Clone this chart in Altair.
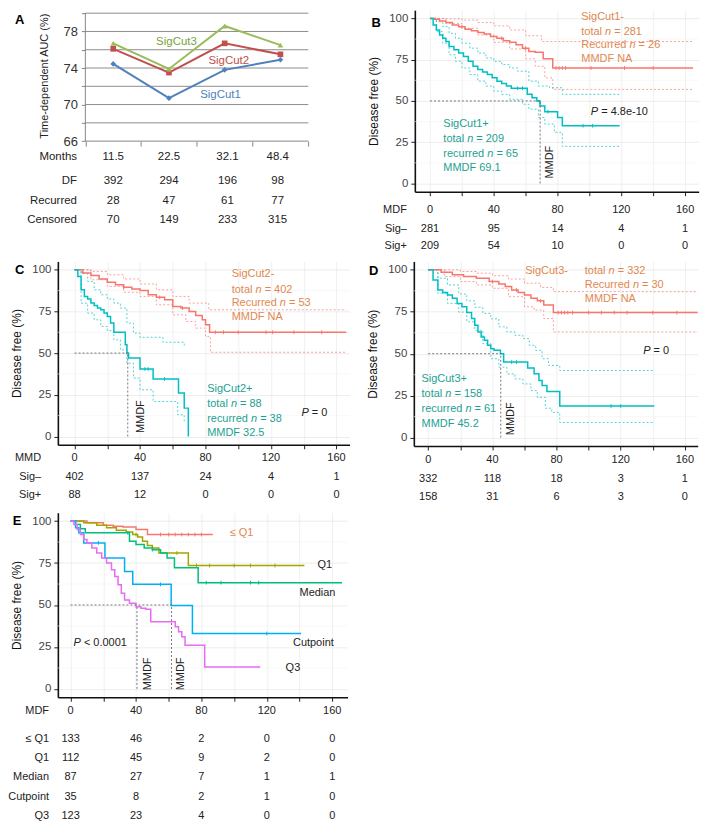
import altair as alt
import pandas as pd

FONT = "Liberation Sans"
ORANGE_TXT = "#E0884F"
TEAL_TXT = "#1D9F93"
RED = "#F8766D"
TEAL = "#00BFC4"
DARK = "#222222"
FX, FY = 0.985, 0.995   # keep the whole figure inside the 693 x 818 page area

# ---------------- Panel A data ----------------
A_months = ["11.5", "22.5", "32.1", "48.4"]
A_df = ["392", "294", "196", "98"]
A_recurred = ["28", "47", "61", "77"]
A_censored = ["70", "149", "233", "315"]
A_sigcut1 = [74.45, 70.7, 73.8, 74.9]
A_sigcut2 = [76.1, 73.5, 76.7, 75.5]
A_sigcut3 = [76.7, 73.9, 78.6, 76.5]
A_table_cols = [0.5, 1.5, 2.55, 3.45]
A_grid = [68, 70, 72, 74, 76, 78, 80]

# ---------------- number-at-risk tables ----------------
time_ticks = [0, 40, 80, 120, 160]
B_sig_neg = [281, 95, 14, 4, 1]
B_sig_pos = [209, 54, 10, 0, 0]
C_sig_neg = [402, 137, 24, 4, 1]
C_sig_pos = [88, 12, 0, 0, 0]
D_sig_neg = [332, 118, 18, 3, 1]
D_sig_pos = [158, 31, 6, 3, 0]
E_le_q1 = [133, 46, 2, 0, 0]
E_q1 = [112, 45, 9, 2, 0]
E_median = [87, 27, 7, 1, 1]
E_cutpoint = [35, 8, 2, 1, 0]
E_q3 = [123, 23, 4, 0, 0]

# ---------------- Panel B curves ----------------
B_neg_t = [0, 3, 6, 10, 14, 18, 22, 26, 30, 34, 38, 42, 46, 50, 54, 58, 62, 66, 71, 77, 165]
B_neg_s = [100, 99.5, 98.5, 97.5, 96, 95, 93.5, 92.5, 91.5, 90.5, 89, 88, 86.5, 85.5, 84, 82, 80, 79.5, 75.5, 70, 70]
B_neg_up_t = [0, 10, 20, 30, 40, 50, 60, 70, 165]
B_neg_up_s = [100, 99.8, 99, 97.5, 95.5, 93, 89.5, 86, 86]
B_neg_lo_t = [0, 10, 20, 30, 40, 50, 60, 66, 72, 77, 165]
B_neg_lo_s = [100, 97, 94, 90, 85.5, 81.5, 75.5, 71, 64, 57, 57]
B_pos_t = [0, 2, 4, 6, 8, 10, 12, 15, 18, 21, 24, 27, 30, 33, 36, 39, 42, 45, 48, 51, 61, 64, 67, 69, 72, 80, 83, 119]
B_pos_s = [100, 96, 93, 90, 88, 86, 83, 81, 79, 77, 74, 71, 69, 67.5, 66, 64, 62, 60.5, 59, 57.7, 54, 52, 50, 47, 43.5, 40, 35, 35]
B_pos_up_t = [0, 4, 8, 12, 16, 20, 25, 30, 35, 40, 45, 50, 55, 62, 68, 75, 83, 119]
B_pos_up_s = [100, 98, 95, 91, 88, 85, 82, 79, 76, 74, 72, 70, 68, 62, 59, 58, 54, 54]
B_pos_lo_t = [0, 4, 8, 12, 16, 20, 25, 30, 35, 40, 45, 50, 58, 62, 68, 72, 78, 83, 119]
B_pos_lo_s = [100, 92, 85, 78, 74, 70, 66, 62, 59, 56, 54, 51, 48, 45, 40, 36, 31, 22.5, 22.5]
B_neg_cens = [20, 45, 60, 79, 81, 83, 85, 101, 122, 140]
B_pos_cens = [55, 58, 74, 96, 102]

# ---------------- Panel C curves ----------------
C_neg_t = [0, 5, 10, 15, 20, 25, 30, 35, 40, 45, 50, 55, 60, 65, 70, 74, 78, 80, 82.5, 166]
C_neg_s = [100, 98, 96.5, 94.5, 92.5, 91, 89.5, 88.5, 87.5, 85, 83.5, 82, 78, 77, 75, 72.5, 70, 67, 62.5, 62.5]
C_neg_up_t = [0, 10, 20, 30, 40, 50, 60, 70, 82, 166]
C_neg_up_s = [100, 99, 97, 94.5, 91.5, 88, 84, 80, 76, 76]
C_neg_lo_t = [0, 10, 20, 30, 40, 50, 60, 68, 74, 80, 83, 166]
C_neg_lo_s = [100, 94, 90, 86.5, 84, 79, 73, 69, 65, 60, 50.5, 50.5]
C_pos_t = [0, 2, 4, 6, 8, 10, 12, 14, 16, 18, 20, 22, 24, 31, 32, 33, 40, 48, 63.5, 67, 69.5]
C_pos_s = [100, 96, 88, 84, 82.5, 80, 78.5, 77, 76, 74, 72, 68, 62.5, 55, 50, 47, 40.5, 34.5, 26, 17, 0]
C_pos_up_t = [0, 4, 8, 12, 16, 20, 24, 28, 32, 36, 40, 54, 67]
C_pos_up_s = [100, 98, 93, 88, 85, 82.5, 80, 77, 68, 62, 59.5, 56.5, 53.5]
C_pos_lo_t = [0, 4, 8, 12, 16, 20, 24, 28, 32, 36, 40, 48, 63, 67]
C_pos_lo_s = [100, 80, 74, 70, 66, 63.5, 58, 52, 44, 35, 28, 21, 13, 9]
C_neg_cens = [30, 52, 66, 86, 91, 100, 117, 121, 134, 151]
C_pos_cens = [43, 45, 55]

# ---------------- Panel D curves ----------------
D_neg_t = [0, 8, 15, 22, 30, 38, 44, 48, 52, 56, 60, 64, 68, 72, 78, 168]
D_neg_s = [100, 98.5, 97, 96, 95, 93, 91.5, 90, 88, 86.5, 85, 83, 81.5, 79, 74.5, 74.5]
D_neg_up_t = [0, 10, 20, 30, 40, 50, 60, 70, 78, 168]
D_neg_up_s = [100, 100, 99, 98, 96.5, 94.5, 92, 89.5, 87, 87]
D_neg_lo_t = [0, 10, 20, 30, 40, 50, 60, 66, 72, 78, 168]
D_neg_lo_s = [100, 96, 93, 91, 89, 84, 78, 76, 71, 63, 63]
D_pos_t = [0, 3, 6, 9, 12, 15, 18, 21, 24, 27, 29, 31, 33, 35, 37, 39, 41, 45, 47, 62, 66, 69, 71, 74, 82, 141]
D_pos_s = [100, 94, 88, 86.5, 85, 83, 80, 78, 74.5, 71, 67, 63, 60, 58, 55, 53, 52, 50, 45, 41.5, 38, 34, 31, 27.5, 18.8, 18.8]
D_pos_up_t = [0, 6, 12, 19, 24, 29, 34, 39, 44, 49, 54, 59, 63, 67, 71, 75, 82, 141]
D_pos_up_s = [100, 95, 91, 85.6, 81.5, 77.7, 74, 70.8, 66, 63, 61, 59, 55, 52, 47, 43, 40, 40]
D_pos_lo_t = [0, 6, 12, 19, 24, 29, 34, 39, 44, 49, 54, 59, 64, 68, 73, 77, 82, 141]
D_pos_lo_s = [100, 86, 80, 74.8, 69, 64, 56, 47, 42, 38, 35, 32, 28, 24, 17.5, 15, 9, 9]
D_neg_cens = [40, 55, 70, 81, 83, 85, 87, 90, 100, 108, 116, 124, 140, 155]
D_pos_cens = [52, 55, 114, 120]

# ---------------- Panel E curves ----------------
E_le_q1_t = [0, 10, 20, 26, 32, 40, 47, 87]
E_le_q1_s = [100, 99, 97.5, 97, 96.5, 95, 92, 92]
E_q1_t = [0, 8, 16, 22, 28, 34, 38, 41, 44, 47, 50, 54, 72, 143]
E_q1_s = [100, 99, 97.5, 96, 94.5, 93.5, 92, 90.5, 88, 85.5, 84, 81, 73.5, 73.5]
E_median_t = [0, 3, 6, 9, 36, 40, 45, 50, 55, 59, 63.5, 78, 166]
E_median_s = [100, 98, 95.5, 93, 88, 86, 84, 83, 81, 78, 72.2, 63.3, 63.3]
E_cut_t = [0, 3, 5, 8, 21, 33, 38, 61.5, 74.5, 141]
E_cut_s = [100, 96, 93, 87, 78, 70, 62.3, 49.7, 33, 33]
E_q3_t = [0, 2, 4, 6, 8, 10, 13, 16, 19, 22, 25, 27, 29, 31, 33, 36, 40, 43, 46, 49, 64, 66, 68, 70, 82, 116]
E_q3_s = [100, 98, 95, 92, 89, 87, 84, 81, 78, 75, 71, 67, 62, 57, 53, 51, 49, 48, 47.5, 40, 37, 34, 31, 26, 13, 13]
E_le_q1_cens = [55, 60, 64, 68, 72, 76, 80]
E_q1_cens = [40, 65, 77, 85, 100, 110, 125]
E_median_cens = [35, 50, 83, 92, 110, 115]
E_cut_cens = [17, 55, 120]

# ---------------- helpers ----------------
CHAR_W = {" ": 278, "=": 584, "+": 584, "-": 333, ".": 278, "<": 584, "\u2264": 549,
          "P": 667, "n": 556, "t": 278, "o": 556, "a": 556, "l": 222, "R": 722,
          "e": 556, "c": 500, "u": 556, "r": 333, "d": 556}


def tw(s, size):
    return sum(CHAR_W.get(c, 556) for c in s) * size / 1000.0


def geom(ox, oy, W, H, xdom, ydom, CW, CH):
    ox, W, CW = ox * FX, W * FX, CW * FX
    oy, H, CH = oy * FY, H * FY, CH * FY
    return dict(ox=ox, oy=oy, W=W, H=H, xdom=xdom, ydom=ydom, CW=CW, CH=CH,
                kx=W / (xdom[1] - xdom[0]), ky=H / (ydom[1] - ydom[0]))


def txt(t, s, text, color=DARK, align="left", style="normal", weight="normal", size=11, angle=0):
    return dict(t=t, s=s, text=text, color=color, align=align, style=style,
                weight=weight, size=size, angle=angle)


def rich(g, t0, s, parts, color=DARK, size=11):
    rows, off = [], 0.0
    for text, ital in parts:
        lead = len(text) - len(text.lstrip(" "))
        core = text.strip(" ")
        trail = len(text) - lead - len(core)
        off += tw(" " * lead, size)
        rows.append(txt(t0 + off / g["kx"], s, core, color=color,
                        style="italic" if ital else "normal", size=size))
        off += tw(core, size) + tw(" " * trail, size)
    return rows


def text_layers(rows, x, y):
    df = pd.DataFrame(rows)
    layers = []
    for key, sub in df.groupby(["align", "style", "weight", "size", "angle"], sort=False):
        align, style, weight, size, angle = key
        layers.append(
            alt.Chart(sub.reset_index(drop=True)).mark_text(
                align=align, baseline="middle", fontStyle=style, fontWeight=weight,
                fontSize=float(size), angle=float(angle), font=FONT
            ).encode(x=x, y=y, text="text:N", color=alt.Color("color:N", scale=None))
        )
    return layers


def anchor_layer(g, x, y):
    # invisible corner points that fix each panel's cell size in the grid
    xl = g["xdom"][0] - g["ox"] / g["kx"]
    xr = g["xdom"][0] + (g["CW"] - g["ox"]) / g["kx"]
    yt = g["ydom"][1] + g["oy"] / g["ky"]
    yb = g["ydom"][1] - (g["CH"] - g["oy"]) / g["ky"]
    df = pd.DataFrame({"t": [xl, xr], "s": [yt, yb]})
    return alt.Chart(df).mark_point(opacity=0, size=1, filled=True).encode(x=x, y=y)


def series_df(name, ts, ss, color):
    return pd.DataFrame({"t": ts, "s": ss, "id": name, "color": color, "i": list(range(len(ts)))})


def step_value(ts, ss, t):
    v = ss[0]
    for ti, si in zip(ts, ss):
        if ti <= t:
            v = si
    return v


def km_xy(g):
    ax = alt.Axis(values=list(range(0, 161, 20)), labels=False, ticks=True, tickSize=4,
                  tickColor="#222", domainColor="#111", domainWidth=1.6, grid=True,
                  gridColor="#ececec", gridWidth=0.8, title=None)
    ay = alt.Axis(values=[0, 25, 50, 75, 100], labelFont=FONT, labelFontSize=11.5,
                  labelColor="#444", labelPadding=3, ticks=True, tickSize=4, tickColor="#222",
                  domainColor="#111", domainWidth=1.6, grid=True, gridColor="#e9e9e9",
                  gridWidth=0.8, title="Disease free (%)", titleFont=FONT, titleFontSize=12,
                  titleFontWeight="normal", titleColor="#111", titlePadding=8)
    x = alt.X("t:Q", scale=alt.Scale(domain=g["xdom"], nice=False, zero=False), axis=ax)
    y = alt.Y("s:Q", scale=alt.Scale(domain=g["ydom"], nice=False, zero=False), axis=ay)
    return x, y


def km_panel(g, curves, cis, refs, texts, censors):
    x, y = km_xy(g)
    minor = pd.DataFrame({"t": g["xdom"][0], "t2": g["xdom"][1], "s": [12.5, 37.5, 62.5, 87.5]})
    layers = [alt.Chart(minor).mark_rule(color="#f3f3f3", strokeWidth=0.6).encode(x=x, x2="t2:Q", y=y)]
    if cis:
        ci_df = pd.concat([series_df(n, a, b, c) for n, a, b, c in cis], ignore_index=True)
        layers.append(alt.Chart(ci_df).mark_line(interpolate="step-after", strokeDash=[2, 2],
                                                 strokeWidth=0.9, opacity=0.75).encode(
            x=x, y=y, detail="id:N", order="i:Q", color=alt.Color("color:N", scale=None)))
    cur_df = pd.concat([series_df(n, a, b, c) for n, a, b, c in curves], ignore_index=True)
    layers.append(alt.Chart(cur_df).mark_line(interpolate="step-after", strokeWidth=1.5).encode(
        x=x, y=y, detail="id:N", order="i:Q", color=alt.Color("color:N", scale=None)))
    cens_rows = []
    for (ts, ss, color), times in censors:
        for t in times:
            cens_rows.append({"t": t, "s": step_value(ts, ss, t), "color": color})
    if cens_rows:
        layers.append(alt.Chart(pd.DataFrame(cens_rows)).mark_point(
            shape="M0,-1L0,1", size=14, strokeWidth=1, filled=False, opacity=1).encode(
            x=x, y=y, color=alt.Color("color:N", scale=None)))
    ref_df = pd.DataFrame(refs, columns=["t", "s", "t2", "s2"])
    layers.append(alt.Chart(ref_df).mark_rule(strokeDash=[2, 2], color="#555", strokeWidth=0.8).encode(
        x=x, y=y, x2="t2:Q", y2="s2:Q"))
    layers += text_layers(texts, x, y)
    layers.append(anchor_layer(g, x, y))
    return alt.layer(*layers).properties(width=g["W"], height=g["H"])


def table_rows(label_t, rows, size=11):
    out = []
    for label, vals, s in rows:
        if label:
            out.append(txt(label_t, s, label, color=DARK, align="right", size=size))
        for tv, v in zip(time_ticks, vals):
            out.append(txt(tv, s, str(v), color=DARK, align="center", size=size))
    return out


# Shared cell geometry: every panel in a column has the same left offset and cell width,
# every panel in a row the same top offset and cell height.
COL1_OX, COL2_OX, COL_W = 50, 61, 350
ROW1_OY, ROW2_OY, ROW3_OY = 0, 1.5, 7.5
ROW1_H, ROW2_H, ROW3_H = 250, 246, 319

# ---------------- Panel A ----------------
A_left = -28 / 56.75
gA = geom(COL1_OX, ROW1_OY, 255, 132, [A_left, 4], [66, 80.33], COL_W, ROW1_H)
xA = alt.X("t:Q", scale=alt.Scale(domain=gA["xdom"], nice=False, zero=False),
           axis=alt.Axis(values=[0, 1, 2, 3, 4], labels=False, ticks=True, tickSize=5,
                         tickColor="#878787", domain=False, grid=False, title=None))
yA = alt.Y("s:Q", scale=alt.Scale(domain=gA["ydom"], nice=False, zero=False),
           axis=alt.Axis(values=list(range(66, 81, 2)), labelExpr="datum.value % 4 == 2 ? datum.label : ''",
                         labelFont=FONT, labelFontSize=13, labelColor="#333", labelPadding=4,
                         ticks=True, tickSize=4, tickColor="#878787", domain=False, grid=False,
                         offset=-28 * FX,
                         title="Time-dependent AUC (%)", titleFont=FONT, titleFontSize=11,
                         titleFontWeight="normal", titleColor="#222", titlePadding=14))
A_layers = [
    alt.Chart(pd.DataFrame({"s": A_grid, "t": 0, "t2": 4})).mark_rule(color="#8c8c8c", strokeWidth=1).encode(
        x=xA, x2="t2:Q", y=yA),
    alt.Chart(pd.DataFrame({"s": [66], "t": 0, "t2": 4})).mark_rule(color="#878787", strokeWidth=1).encode(
        x=xA, x2="t2:Q", y=yA),
    alt.Chart(pd.DataFrame({"t": [0], "s": 66, "s2": 80})).mark_rule(color="#878787", strokeWidth=1).encode(
        x=xA, y=yA, y2="s2:Q"),
]
for vals, color, shape in [(A_sigcut1, "#4F81BD", "diamond"), (A_sigcut2, "#C0504D", "square"),
                           (A_sigcut3, "#9BBB59", "triangle-up")]:
    d = pd.DataFrame({"t": [0.5, 1.5, 2.5, 3.5], "s": vals})
    A_layers.append(alt.Chart(d).mark_line(color=color, strokeWidth=2).encode(x=xA, y=yA))
    A_layers.append(alt.Chart(d).mark_point(color=color, filled=True, shape=shape, size=32, opacity=1).encode(x=xA, y=yA))
A_texts = [txt(-1.18, 79.2, "A", color="black", align="center", weight="bold", size=13),
           txt(1.269, 76.9, "SigCut3", color="#77A33A", size=11.5),
           txt(2.208, 74.8, "SigCut2", color="#C0504D", size=11.5),
           txt(2.06, 71.05, "SigCut1", color="#4F81BD", size=11.5)]
for label, vals, s in [("Months", A_months, 64.3), ("DF", A_df, 61.6),
                       ("Recurred", A_recurred, 59.4), ("Censored", A_censored, 57.4)]:
    A_texts.append(txt(-0.15, s, label, color=DARK, align="right", size=11.5))
    for cx, v in zip(A_table_cols, vals):
        A_texts.append(txt(cx, s, v, color=DARK, align="center", size=11.5))
A_layers += text_layers(A_texts, xA, yA)
A_layers.append(anchor_layer(gA, xA, yA))
chartA = alt.layer(*A_layers).properties(width=gA["W"], height=gA["H"])

# ---------------- Panel B ----------------
gB = geom(COL2_OX, ROW1_OY, 289, 183, [-9.5, 168.5], [-5, 105], COL_W, ROW1_H)
B_texts = [txt(-33.7, 97.0, "B", color="black", align="center", weight="bold", size=13),
           txt(94.9, 100.6, "SigCut1-", color=ORANGE_TXT)]
B_texts += rich(gB, 94.9, 91.6, [("total ", 0), ("n", 1), (" = 281", 0)], ORANGE_TXT)
B_texts += rich(gB, 94.9, 83.8, [("Recurred ", 0), ("n", 1), (" = 26", 0)], ORANGE_TXT)
B_texts += [txt(94.9, 75.4, "MMDF NA", color=ORANGE_TXT), txt(8.4, 35.9, "SigCut1+", color=TEAL_TXT)]
B_texts += rich(gB, 8.4, 26.9, [("total ", 0), ("n", 1), (" = 209", 0)], TEAL_TXT)
B_texts += rich(gB, 8.4, 18.0, [("recurred ", 0), ("n", 1), (" = 65", 0)], TEAL_TXT)
B_texts += [txt(8.4, 9.6, "MMDF 69.1", color=TEAL_TXT)]
B_texts += rich(gB, 100.9, 43.1, [("P", 1), (" = 4.8e-10", 0)], DARK)
B_texts += [txt(75, 12.9, "MMDF", color=DARK, align="center", angle=270)]
B_texts += table_rows(-14.5, [("MDF", time_ticks, -16.2), ("Sig\u2013", B_sig_neg, -27.5),
                              ("Sig+", B_sig_pos, -37.7)])
chartB = km_panel(
    gB,
    [("neg", B_neg_t, B_neg_s, RED), ("pos", B_pos_t, B_pos_s, TEAL)],
    [("nu", B_neg_up_t, B_neg_up_s, RED), ("nl", B_neg_lo_t, B_neg_lo_s, RED),
     ("pu", B_pos_up_t, B_pos_up_s, TEAL), ("pl", B_pos_lo_t, B_pos_lo_s, TEAL)],
    [(0, 50, 69.1, 50), (69.1, 0, 69.1, 50)],
    B_texts,
    [((B_neg_t, B_neg_s, RED), B_neg_cens), ((B_pos_t, B_pos_s, TEAL), B_pos_cens)])

# ---------------- Panel C ----------------
gC = geom(COL1_OX, ROW2_OY, 297, 184.8, [-10.2, 168], [-5, 105], COL_W, ROW2_H)
C_texts = [txt(-33.6, 100, "C", color="black", align="center", weight="bold", size=13),
           txt(96, 97.6, "SigCut2-", color=ORANGE_TXT)]
C_texts += rich(gC, 96, 88.1, [("total ", 0), ("n", 1), (" = 402", 0)], ORANGE_TXT)
C_texts += rich(gC, 96, 79.8, [("Recurred ", 0), ("n", 1), (" = 53", 0)], ORANGE_TXT)
C_texts += [txt(96, 71.4, "MMDF NA", color=ORANGE_TXT), txt(81, 28.6, "SigCut2+", color=TEAL_TXT)]
C_texts += rich(gC, 81, 19.6, [("total ", 0), ("n", 1), (" = 88", 0)], TEAL_TXT)
C_texts += rich(gC, 81, 10.7, [("recurred ", 0), ("n", 1), (" = 38", 0)], TEAL_TXT)
C_texts += [txt(81, 1.8, "MMDF 32.5", color=TEAL_TXT)]
C_texts += rich(gC, 138.6, 14.3, [("P", 1), (" = 0", 0)], DARK)
C_texts += [txt(40.8, 11.9, "MMDF", color=DARK, align="center", angle=270)]
C_texts += table_rows(-20.4, [("MMD", time_ticks, -13.1), ("Sig\u2013", C_sig_neg, -24.4),
                              ("Sig+", C_sig_pos, -35.1)])
chartC = km_panel(
    gC,
    [("neg", C_neg_t, C_neg_s, RED), ("pos", C_pos_t, C_pos_s, TEAL)],
    [("nu", C_neg_up_t, C_neg_up_s, RED), ("nl", C_neg_lo_t, C_neg_lo_s, RED),
     ("pu", C_pos_up_t, C_pos_up_s, TEAL), ("pl", C_pos_lo_t, C_pos_lo_s, TEAL)],
    [(0, 50, 32.5, 50), (32.5, 0, 32.5, 50)],
    C_texts,
    [((C_neg_t, C_neg_s, RED), C_neg_cens), ((C_pos_t, C_pos_s, TEAL), C_pos_cens)])

# ---------------- Panel D ----------------
gD = geom(COL2_OX, ROW2_OY, 289, 186, [-9, 168], [-5, 105], COL_W, ROW2_H)
D_texts = [txt(-34.1, 99.4, "D", color="black", align="center", weight="bold", size=13),
           txt(60.5, 99.4, "SigCut3-", color=ORANGE_TXT)]
D_texts += rich(gD, 97.6, 99.4, [("total ", 0), ("n", 1), (" = 332", 0)], ORANGE_TXT)
D_texts += rich(gD, 97.6, 91.1, [("Recurred ", 0), ("n", 1), (" = 30", 0)], ORANGE_TXT)
D_texts += [txt(97.6, 82.8, "MMDF NA", color=ORANGE_TXT), txt(-4.2, 34.9, "SigCut3+", color=TEAL_TXT)]
D_texts += rich(gD, -4.2, 26.0, [("total ", 0), ("n", 1), (" = 158", 0)], TEAL_TXT)
D_texts += rich(gD, -4.2, 17.2, [("recurred ", 0), ("n", 1), (" = 61", 0)], TEAL_TXT)
D_texts += [txt(-4.2, 8.3, "MMDF 45.2", color=TEAL_TXT)]
D_texts += rich(gD, 134, 51.5, [("P", 1), (" = 0", 0)], DARK)
D_texts += [txt(51.3, 11.2, "MMDF", color=DARK, align="center", angle=270)]
D_texts += table_rows(0, [(None, time_ticks, -13.6), (None, D_sig_neg, -24.9),
                          (None, D_sig_pos, -35.5)])
chartD = km_panel(
    gD,
    [("neg", D_neg_t, D_neg_s, RED), ("pos", D_pos_t, D_pos_s, TEAL)],
    [("nu", D_neg_up_t, D_neg_up_s, RED), ("nl", D_neg_lo_t, D_neg_lo_s, RED),
     ("pu", D_pos_up_t, D_pos_up_s, TEAL), ("pl", D_pos_lo_t, D_pos_lo_s, TEAL)],
    [(0, 50, 45.2, 50), (45.2, 0, 45.2, 50)],
    D_texts,
    [((D_neg_t, D_neg_s, RED), D_neg_cens), ((D_pos_t, D_pos_s, TEAL), D_pos_cens)])

# ---------------- Panel E ----------------
gE = geom(COL1_OX, ROW3_OY, 295, 186, [-7.8, 169.4], [-5, 105], COL_W, ROW3_H)
E_texts = [txt(-32.7, 100, "E", color="black", align="center", weight="bold", size=13),
           txt(97.3, 92.9, "\u2264 Q1", color=ORANGE_TXT),
           txt(151, 74.1, "Q1", color=DARK), txt(140, 57.4, "Median", color=DARK),
           txt(136, 27.2, "Cutpoint", color=DARK), txt(131.5, 12.4, "Q3", color=DARK)]
E_texts += rich(gE, 1.8, 27.2, [("P", 1), (" < 0.0001", 0)], DARK)
E_texts += [txt(47.5, 8.9, "MMDF", color=DARK, align="center", angle=270),
            txt(67.8, 8.9, "MMDF", color=DARK, align="center", angle=270)]
E_texts += table_rows(-13.2, [("MDF", time_ticks, -13.0), ("\u2264 Q1", E_le_q1, -29.6),
                              ("Q1", E_q1, -41.1), ("Median", E_median, -52.7),
                              ("Cutpoint", E_cutpoint, -64.2), ("Q3", E_q3, -75.7)])
chartE = km_panel(
    gE,
    [("le", E_le_q1_t, E_le_q1_s, "#F8766D"), ("q1", E_q1_t, E_q1_s, "#A3A500"),
     ("med", E_median_t, E_median_s, "#00BF7D"), ("cut", E_cut_t, E_cut_s, "#00B0F6"),
     ("q3", E_q3_t, E_q3_s, "#E76BF3")],
    [],
    [(0, 50, 61.7, 50), (40.6, 0, 40.6, 50), (61.7, 0, 61.7, 50)],
    E_texts,
    [((E_le_q1_t, E_le_q1_s, "#F8766D"), E_le_q1_cens), ((E_q1_t, E_q1_s, "#A3A500"), E_q1_cens),
     ((E_median_t, E_median_s, "#00BF7D"), E_median_cens), ((E_cut_t, E_cut_s, "#00B0F6"), E_cut_cens)])

row1 = alt.hconcat(chartA, chartB, spacing=0)
row2 = alt.hconcat(chartC, chartD, spacing=0)
chart = alt.vconcat(row1, row2, chartE, spacing=0).properties(
    padding=0, background="white"
).configure_view(stroke=None)

chart.save("out.html", embed_options={"renderer": "svg", "actions": False})
